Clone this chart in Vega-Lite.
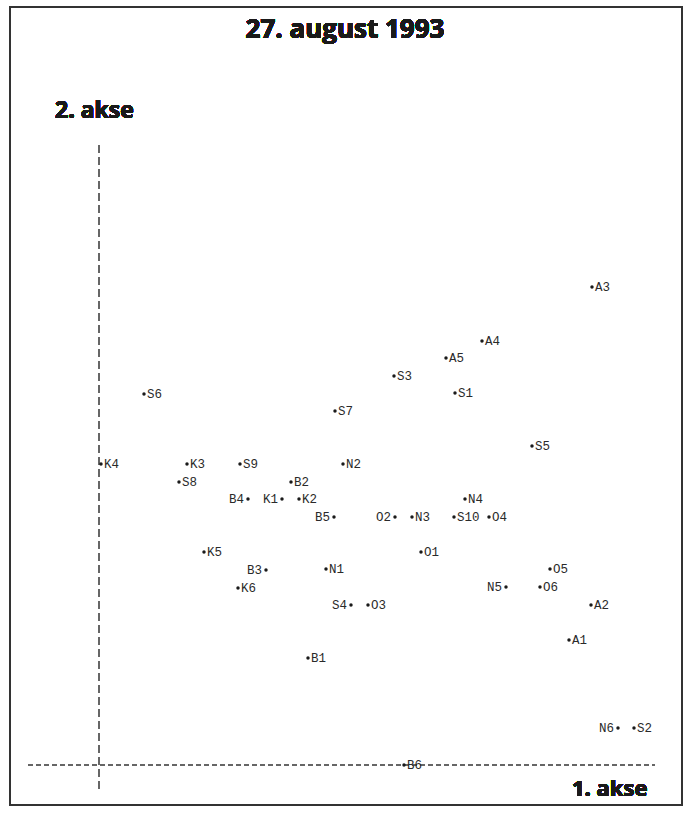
{
  "$schema": "https://vega.github.io/schema/vega-lite/v6.json",
  "width": 672,
  "height": 798,
  "autosize": {"type": "none"},
  "padding": {"left": 10, "top": 7, "right": 10, "bottom": 8},
  "background": "white",
  "config": {"view": {"stroke": "#333333", "strokeWidth": 2}},
  "data": {"values": [
    {"id": "A3", "ax1": 9.86, "ax2": 9.56},
    {"id": "A4", "ax1": 7.66, "ax2": 8.48},
    {"id": "A5", "ax1": 6.94, "ax2": 8.14},
    {"id": "S3", "ax1": 5.90, "ax2": 7.78},
    {"id": "S1", "ax1": 7.12, "ax2": 7.44},
    {"id": "S6", "ax1": 0.90, "ax2": 7.42},
    {"id": "S7", "ax1": 4.72, "ax2": 7.08},
    {"id": "S5", "ax1": 8.66, "ax2": 6.38},
    {"id": "K4", "ax1": 0.04, "ax2": 6.02},
    {"id": "K3", "ax1": 1.76, "ax2": 6.02},
    {"id": "S9", "ax1": 2.82, "ax2": 6.02},
    {"id": "N2", "ax1": 4.88, "ax2": 6.02},
    {"id": "S8", "ax1": 1.60, "ax2": 5.66},
    {"id": "B2", "ax1": 3.84, "ax2": 5.66},
    {"id": "N4", "ax1": 7.32, "ax2": 5.32},
    {"id": "B4", "ax1": 2.98, "ax2": 5.32},
    {"id": "K1", "ax1": 3.66, "ax2": 5.32},
    {"id": "K2", "ax1": 4.00, "ax2": 5.32},
    {"id": "B5", "ax1": 4.70, "ax2": 4.96},
    {"id": "O2", "ax1": 5.92, "ax2": 4.96},
    {"id": "N3", "ax1": 6.26, "ax2": 4.96},
    {"id": "S10", "ax1": 7.10, "ax2": 4.96},
    {"id": "O4", "ax1": 7.80, "ax2": 4.96},
    {"id": "K5", "ax1": 2.10, "ax2": 4.26},
    {"id": "O1", "ax1": 6.44, "ax2": 4.26},
    {"id": "O5", "ax1": 9.02, "ax2": 3.92},
    {"id": "B3", "ax1": 3.34, "ax2": 3.90},
    {"id": "N1", "ax1": 4.54, "ax2": 3.92},
    {"id": "K6", "ax1": 2.78, "ax2": 3.54},
    {"id": "N5", "ax1": 8.14, "ax2": 3.56},
    {"id": "O6", "ax1": 8.82, "ax2": 3.56},
    {"id": "S4", "ax1": 5.04, "ax2": 3.20},
    {"id": "O3", "ax1": 5.38, "ax2": 3.20},
    {"id": "A2", "ax1": 9.84, "ax2": 3.20},
    {"id": "A1", "ax1": 9.40, "ax2": 2.50},
    {"id": "B1", "ax1": 4.18, "ax2": 2.14},
    {"id": "N6", "ax1": 10.38, "ax2": 0.74},
    {"id": "S2", "ax1": 10.70, "ax2": 0.74},
    {"id": "B6", "ax1": 6.10, "ax2": 0.00}
  ]},
  "layer": [
    {
      "mark": {"type": "rule", "color": "#666666", "strokeWidth": 1, "strokeDash": [8, 4]},
      "encoding": {
        "x": {"datum": 0, "type": "quantitative", "scale": {"domain": [-1.78, 11.66], "nice": false, "zero": false}, "axis": null},
        "y": {"datum": 12.4, "type": "quantitative", "scale": {"domain": [-0.8, 15.16], "nice": false, "zero": false}, "axis": null},
        "y2": {"datum": -0.5}
      }
    },
    {
      "mark": {"type": "rule", "color": "#666666", "strokeWidth": 1, "strokeDash": [5, 3]},
      "encoding": {
        "x": {"datum": -1.42, "type": "quantitative", "scale": {"domain": [-1.78, 11.66], "nice": false, "zero": false}, "axis": null},
        "x2": {"datum": 11.12},
        "y": {"datum": 0, "type": "quantitative", "scale": {"domain": [-0.8, 15.16], "nice": false, "zero": false}, "axis": null}
      }
    },
    {
      "mark": {"type": "point", "filled": true, "size": 12, "color": "#1a1a1a", "opacity": 1},
      "encoding": {
        "x": {"field": "ax1", "type": "quantitative", "scale": {"domain": [-1.78, 11.66], "nice": false, "zero": false}, "axis": null},
        "y": {"field": "ax2", "type": "quantitative", "scale": {"domain": [-0.8, 15.16], "nice": false, "zero": false}, "axis": null}
      }
    },
    {
      "transform": [{"filter": {"not": {"field": "id", "oneOf": ["B4", "K1", "B5", "O2", "B3", "S4", "N5", "N6"]}}}],
      "mark": {"type": "text", "align": "left", "baseline": "middle", "dx": 3, "font": "Liberation Mono", "fontSize": 12.5, "color": "#2a2a2a"},
      "encoding": {
        "x": {"field": "ax1", "type": "quantitative"},
        "y": {"field": "ax2", "type": "quantitative"},
        "text": {"field": "id"}
      }
    },
    {
      "transform": [{"filter": {"field": "id", "oneOf": ["B4", "K1", "B5", "O2", "B3", "S4", "N5", "N6"]}}],
      "mark": {"type": "text", "align": "right", "baseline": "middle", "dx": -4, "font": "Liberation Mono", "fontSize": 12.5, "color": "#2a2a2a"},
      "encoding": {
        "x": {"field": "ax1", "type": "quantitative"},
        "y": {"field": "ax2", "type": "quantitative"},
        "text": {"field": "id"}
      }
    },
    {
      "mark": {"type": "text", "align": "center", "baseline": "alphabetic", "font": "Open Sans", "fontWeight": "bold", "fontSize": 26, "color": "#1a1a1a"},
      "encoding": {
        "x": {"datum": 4.92, "type": "quantitative"},
        "y": {"datum": 14.54, "type": "quantitative"},
        "text": {"value": "27. august 1993"}
      }
    },
    {
      "mark": {"type": "text", "align": "left", "baseline": "alphabetic", "font": "Open Sans", "fontWeight": "bold", "fontSize": 23, "color": "#1a1a1a"},
      "encoding": {
        "x": {"datum": -0.88, "type": "quantitative"},
        "y": {"datum": 12.94, "type": "quantitative"},
        "text": {"value": "2. akse"}
      }
    },
    {
      "mark": {"type": "text", "align": "left", "baseline": "alphabetic", "font": "Open Sans", "fontWeight": "bold", "fontSize": 22, "color": "#1a1a1a"},
      "encoding": {
        "x": {"datum": 9.46, "type": "quantitative"},
        "y": {"datum": -0.62, "type": "quantitative"},
        "text": {"value": "1. akse"}
      }
    }
  ]
}
